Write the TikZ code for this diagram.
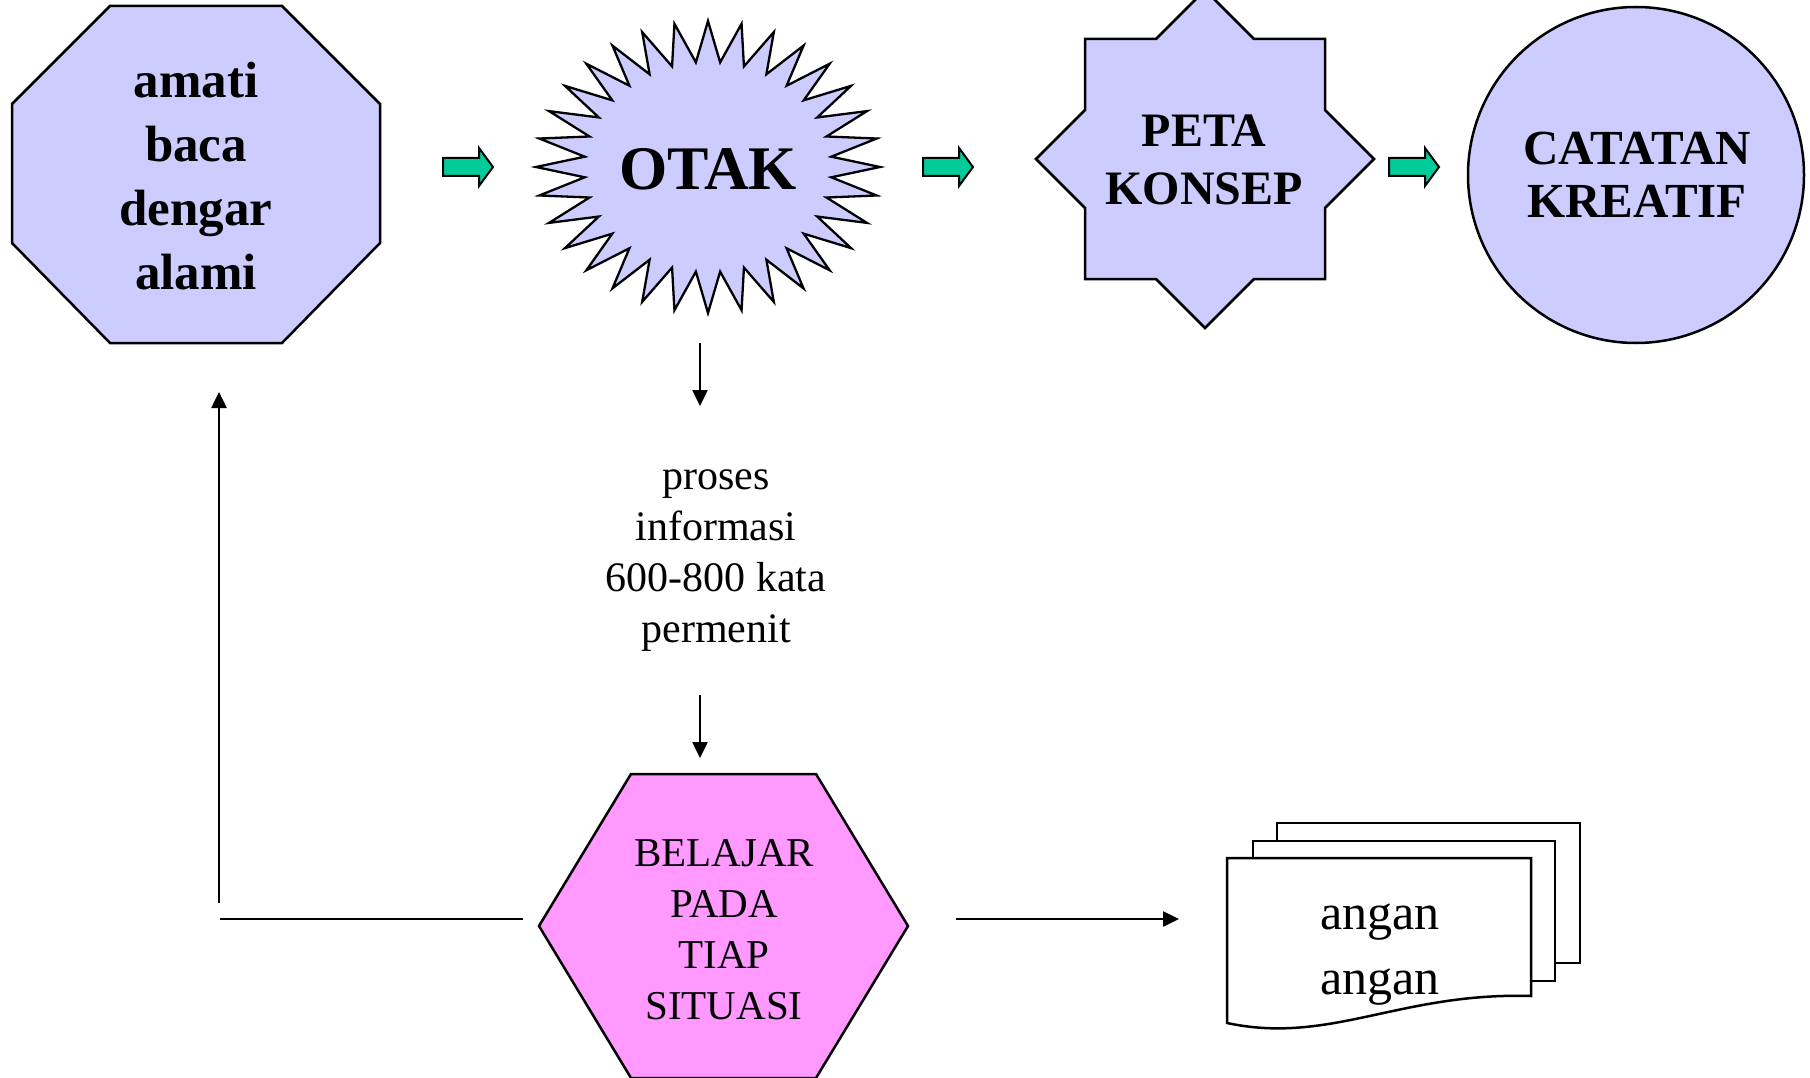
\documentclass[tikz,border=0pt]{standalone}
\usepackage{fontspec}
\setmainfont{Liberation Serif}
\usetikzlibrary{arrows.meta}
\definecolor{lav}{HTML}{CCCCFF}
\definecolor{pinkfill}{HTML}{FF99FF}
\definecolor{agreen}{HTML}{00CC99}
\begin{document}
\begin{tikzpicture}[x=1pt,y=-1pt,
  shapebox/.style={draw=black, line width=2.5pt, line join=miter},
  sheet/.style={draw=black, line width=2.5pt, fill=white},
  txt/.style={inner sep=0pt, align=center, text=black},
  conn/.style={line width=2.5pt, -{Triangle[length=16pt,width=15pt]}},
  plainline/.style={line width=2.5pt},
  garrow/.pic={\draw[line width=2pt, fill=agreen, line join=miter] (0,-9) -- (36,-9) -- (36,-19) -- (50,0) -- (36,19) -- (36,9) -- (0,9) -- cycle;}
]
\useasboundingbox (0,0) rectangle (1810,1078);
\fill[white] (0,0) rectangle (1810,1078);

% octagon
\draw[shapebox, fill=lav] (110,6) -- (282,6) -- (380,104) -- (380,243) -- (282,343) -- (110,343) -- (12,243) -- (12,104) -- cycle;
\node[txt, font=\bfseries\fontsize{51}{64}\selectfont] (amati) at (196,176) {amati\\baca\\dengar\\alami};

% starburst
\draw[shapebox, line width=2.3pt, fill=lav] plot[samples=64, domain=0:63] ({708+172*(1-0.28*mod(round(\x),2))*cos(90+5.625*\x)}, {167-146*(1-0.28*mod(round(\x),2))*sin(90+5.625*\x)}) -- cycle;
\node[txt, font=\bfseries\fontsize{62}{74}\selectfont] (otak) at (708,169) {OTAK};

% 8-point star
\draw[shapebox, fill=lav] (1205,-10) -- (1254,39) -- (1325,39) -- (1325,110) -- (1374,159) -- (1325,208) -- (1325,279) -- (1254,279) -- (1205,328) -- (1156,279) -- (1085,279) -- (1085,208) -- (1036,159) -- (1085,110) -- (1085,39) -- (1156,39) -- cycle;
\node[txt, font=\bfseries\fontsize{48}{58}\selectfont] (peta) at (1204,160) {PETA\\KONSEP};

% circle
\draw[shapebox, fill=lav] (1636,175) circle[radius=168];
\node[txt, font=\bfseries\fontsize{49}{53}\selectfont] (catatan) at (1637,175) {CATATAN\\KREATIF};

% green block arrows
\pic at (443,167) {garrow};
\pic at (923,167) {garrow};
\pic at (1389,167) {garrow};

% text in the middle
\node[txt, font=\fontsize{42}{51}\selectfont] (proses) at (716,561) {proses\\informasi\\600-800 kata\\permenit};

% hexagon
\draw[shapebox, fill=pinkfill] (539,926) -- (631,774) -- (816,774) -- (908,926) -- (816,1078) -- (631,1078) -- cycle;
\node[txt, font=\fontsize{41}{51}\selectfont] (belajar) at (724,930) {BELAJAR\\PADA\\TIAP\\SITUASI};

% document stack
\draw[sheet] (1277,823) rectangle (1580,963);
\draw[sheet] (1253,841) rectangle (1555,981);
\draw[sheet] (1227,858) -- (1531,858) -- (1531,996) .. controls (1400,992) and (1330,1045) .. (1227,1023) -- cycle;
\node[txt, font=\fontsize{50}{65}\selectfont] (angan) at (1380,955) {angan\\angan};

% connectors
\coordinate (d1a) at (700,343);
\coordinate (d1b) at (700,406);
\coordinate (d2a) at (700,695);
\coordinate (d2b) at (700,758);
\coordinate (up1) at (219,903);
\coordinate (up2) at (219,392);
\coordinate (h1a) at (220,919);
\coordinate (h1b) at (523,919);
\coordinate (h2a) at (956,919);
\coordinate (h2b) at (1179,919);
\draw[conn] (d1a) -- (d1b);
\draw[conn] (d2a) -- (d2b);
\draw[conn] (up1) -- (up2);
\draw[plainline] (h1a) -- (h1b);
\draw[conn] (h2a) -- (h2b);
\end{tikzpicture}
\end{document}
